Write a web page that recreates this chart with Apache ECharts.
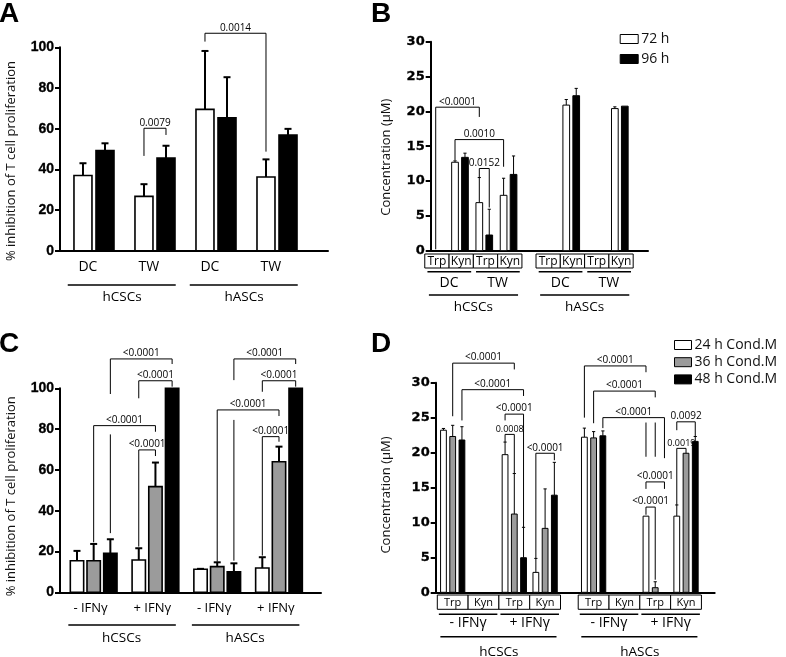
<!DOCTYPE html>
<html>
<head>
<meta charset="utf-8">
<script src="https://cdn.jsdelivr.net/npm/echarts@6/dist/echarts.min.js"></script>
<style>
  html, body { margin: 0; padding: 0; background: #fff; }
  #main { width: 786px; height: 657px; }
</style>
</head>
<body>
<div id="main"></div>
<script>
var myChart = echarts.init(document.getElementById('main'));

// ---- A: % inhibition, DC / TW
var aLabels = ['DC', 'TW', 'DC', 'TW'];
var aGroups = ['hCSCs', 'hASCs'];
var aOpen = [37.0, 26.7, 69.5, 36.2];
var aOpenSd = [6.0, 6.0, 28.7, 8.7];
var aFilled = [49.2, 45.6, 65.4, 56.9];
var aFilledSd = [3.6, 6.0, 19.9, 3.0];
var aTicks = [0, 20, 40, 60, 80, 100];
// [group, bar, group, bar, top, left end, right end, p]
var aSig = [
  [1, 0, 1, 1, 60.2, 46.6, 56.9, '0.0079'],
  [2, 0, 3, 0, 106.9, 102.8, 48.7, '0.0014']
];

// ---- B: Trp / Kyn at 72 h and 96 h
var bCells = ['Trp', 'Kyn', 'Trp', 'Kyn', 'Trp', 'Kyn', 'Trp', 'Kyn'];
var bLabels = ['DC', 'TW', 'DC', 'TW'];
var bGroups = ['hCSCs', 'hASCs'];
var b72 = [0, 12.7, 6.9, 7.95, 0, 20.9, 0, 20.4];
var b72Sd = [0, 0.2, 3.6, 2.45, 0, 0.8, 0, 0.25];
var b96 = [0, 13.4, 2.25, 10.95, 0, 22.25, 0, 20.75];
var b96Sd = [0, 0.6, 3.7, 2.65, 0, 1.05, 0, 0];
var bTicks = [0, 5, 10, 15, 20, 25, 30];
var bSig = [
  [0, 0.5, 2, 0, 20.6, 0.2, 19.2, '<0.0001'],
  [1, 0, 3, 0, 15.95, 13.0, 12.05, '0.0010'],
  [2, 0, 2, 1, 11.8, 10.5, 6.2, '0.0152']
];

// ---- C: % inhibition, -/+ IFNy
var cLabels = ['- IFNγ', '+ IFNγ', '- IFNγ', '+ IFNγ'];
var cGroups = ['hCSCs', 'hASCs'];
var c24 = [15.5, 15.8, 11.3, 11.9];
var c24Sd = [4.8, 5.8, 0.2, 5.3];
var c36 = [15.5, 51.8, 12.6, 64.0];
var c36Sd = [8.2, 11.8, 2.1, 7.4];
var c48 = [19.1, 100, 10.1, 100];
var c48Sd = [6.9, 0, 4.1, 0];
var cTicks = [0, 20, 40, 60, 80, 100];
var cSig = [
  [0, 2, 1, 2, 114.4, 97.2, 111.9, '<0.0001'],
  [1, 0, 1, 2, 103.7, 95.1, 100.8, '<0.0001'],
  [0, 1, 1, 1, 81.7, 24.5, 78.7, '<0.0001'],
  [1, 0, 1, 1, 69.8, 22.4, 66.8, '<0.0001'],
  [2, 2, 3, 2, 114.4, 104.0, 111.9, '<0.0001'],
  [3, 0, 3, 2, 103.7, 98.3, 100.8, '<0.0001'],
  [2, 1, 3, 1, 89.4, 15.0, 86.4, '<0.0001'],
  [3, 0, 3, 1, 76.3, 18.0, 73.8, '<0.0001']
];
// loose vertical legs: [group, bar, from, to]
var cLegs = [[0, 2, 77.4, 29.0], [2, 2, 84.5, 15.5]];

// ---- D: Trp / Kyn with conditioned medium
var dCells = ['Trp', 'Kyn', 'Trp', 'Kyn', 'Trp', 'Kyn', 'Trp', 'Kyn'];
var dLabels = ['- IFNγ', '+ IFNγ', '- IFNγ', '+ IFNγ'];
var dGroups = ['hCSCs', 'hASCs'];
var d24 = [23.2, 0, 19.7, 2.85, 22.2, 0, 10.9, 10.9];
var d24Sd = [0.25, 0, 1.8, 2.0, 1.3, 0, 0, 1.6];
var d36 = [22.3, 0, 11.2, 9.15, 22.1, 0, 0.66, 19.9];
var d36Sd = [1.6, 0, 5.8, 5.65, 0.9, 0, 0.85, 0];
var d48 = [21.8, 0, 4.95, 13.9, 22.4, 0, 0, 21.6];
var d48Sd = [1.9, 0, 4.35, 4.7, 0.7, 0, 0, 0.7];
var dTicks = [0, 5, 10, 15, 20, 25, 30];
var dSig = [
  [0, 1, 2, 1, 32.8, 25.2, 31.9, '<0.0001'],
  [0, 2, 2, 2, 29.0, 24.6, 28.1, '<0.0001'],
  [2, 0, 2, 2, 25.5, 24.6, 9.3, '<0.0001'],
  [2, 0, 2, 1, 22.6, 21.5, 17.0, '0.0008'],
  [3, 0, 3, 2, 19.9, 4.9, 18.9, '<0.0001'],
  [4, 0, 6, 0, 32.4, 25.0, 31.5, '<0.0001'],
  [4, 1, 6, 1, 28.8, 24.2, 27.9, '<0.0001'],
  [4, 2, 6, 2, 25.0, 23.5, 19.2, '<0.0001'],
  [6, 0, 6, 2, 15.8, 14.8, 14.8, '<0.0001'],
  [6, 0, 6, 1, 12.2, 11.1, 1.8, '<0.0001'],
  [7, 0, 7, 1, 20.6, 12.5, 19.9, '0.0019'],
  [7, 0, 7, 2, 24.4, 23.2, 22.3, '0.0092']
];
var dLegs = [[6, 0, 24.3, 19.4], [6, 1, 24.3, 19.4]];

var SANS = '"Open Sans", sans-serif';

// layout of each panel (pixels / axis units)
var LA = { grid: { left: 60, top: 47.3, width: 268, height: 203.4 }, x: [-0.557, 3.836], half: 4, gap: 0,
  n: 2, spacing: 0.361, halfW: 0.1475, cap: 3.5, lw: 1.6, ew: 2, subFont: 14, cellFont: 11,
  subDx: -0.1, subY: [null, 16.3], grpLine: [-0.43, 0.34], grpY: [34.3, 46.3], grpDx: -0.04 };
var LB = { grid: { left: 430.7, top: 41.7, width: 217.3, height: 209 }, x: [-0.206, 8.74], half: 4, gap: 0.58,
  n: 2, spacing: 0.41, halfW: 0.138, cap: 1.6, lw: 1, ew: 1, subFont: 14, cellFont: 12,
  cell: [-0.45, 0.55], box: [3.3, 17.3], subLine: [-0.34, 0.46], subY: [21, 32.6], subDx: 0.05,
  grpLine: [-0.28, 0.39], grpY: [44.3, 56], grpDx: 0.05 };
var LC = { grid: { left: 60, top: 388.3, width: 261, height: 204 }, x: [-0.545, 3.68], half: 4, gap: 0,
  n: 3, spacing: 0.27, halfW: 0.108, cap: 3.5, lw: 1.6, ew: 2, subFont: 13, cellFont: 11,
  subDx: -0.05, subY: [null, 15.7], grpLine: [-0.41, 0.33], grpY: [32.7, 45.7], grpDx: -0.047 };
var LD = { grid: { left: 435.7, top: 382.7, width: 279, height: 209.6 }, x: [-0.552, 8.506], half: 4, gap: 0.575,
  n: 3, spacing: 0.3, halfW: 0.094, cap: 1.6, lw: 1, ew: 1, subFont: 14, cellFont: 11,
  cell: [-0.5, 0.5], box: [2.7, 17], subLine: [-0.45, 0.45], subY: [22, 30.4], subDx: 0,
  grpLine: [-0.4, 0.37], grpY: [44.4, 59.4], grpDx: 0 };
var panels = [LA, LB, LC, LD];

function pos(L, i) { return i + (i >= L.half ? L.gap : 0); }
function barX(L, i, k) { return pos(L, i) + (k - (L.n - 1) / 2) * L.spacing; }

function txt(s, x, y, size, extra) {
  var st = { text: s, x: x, y: y, align: 'center', verticalAlign: 'middle', fill: '#000', fontSize: size, fontFamily: SANS };
  if (extra) Object.assign(st, extra);
  return { type: 'text', style: st };
}
function seg(p, q, w) {
  return { type: 'line', shape: { x1: p[0], y1: p[1], x2: q[0], y2: q[1] }, style: { stroke: '#000', lineWidth: w || 1 } };
}

function barSeries(name, xi, L, k, vals, sds, color) {
  return {
    type: 'custom', name: name, xAxisIndex: xi, yAxisIndex: xi, clip: false,
    itemStyle: { color: color, borderColor: '#000', borderWidth: 1 },
    data: vals.map(function (v, i) { return [pos(L, i), v, sds[i]]; }),
    renderItem: function (params, api) {
      var v = api.value(1), sd = api.value(2);
      if (!v) return null;
      var x = api.value(0) + (k - (L.n - 1) / 2) * L.spacing;
      var a = api.coord([x - L.halfW, v]), b = api.coord([x + L.halfW, 0]);
      var kids = [];
      if (sd > 0) {
        var t = api.coord([x, v + sd]);
        kids.push(seg([t[0], a[1]], t, L.ew));
        kids.push(seg([t[0] - L.cap, t[1]], [t[0] + L.cap, t[1]], L.ew));
      }
      kids.push({ type: 'rect', shape: { x: a[0], y: a[1], width: b[0] - a[0], height: b[1] - a[1] },
        style: { fill: color, stroke: '#000', lineWidth: L.lw } });
      return { type: 'group', children: kids };
    }
  };
}

function sigSeries(xi, L, sig, legs) {
  return {
    type: 'custom', xAxisIndex: xi, yAxisIndex: xi, clip: false, silent: true,
    data: [[0, 0]],
    renderItem: function (params, api) {
      var kids = [];
      sig.forEach(function (s) {
        var xl = barX(L, s[0], s[1]), xr = barX(L, s[2], s[3]);
        var p1 = api.coord([xl, s[5]]), p2 = api.coord([xl, s[4]]), p3 = api.coord([xr, s[4]]), p4 = api.coord([xr, s[6]]);
        kids.push({ type: 'polyline', shape: { points: [p1, p2, p3, p4] }, style: { stroke: '#000', lineWidth: 1, fill: null } });
        var small = (s[7] === '0.0008' || s[7] === '0.0019');
        kids.push(txt(s[7], (p2[0] + p3[0]) / 2, p2[1] - 0.5, small ? 9 : 10, { verticalAlign: 'bottom' }));
      });
      (legs || []).forEach(function (g) {
        var x = barX(L, g[0], g[1]);
        kids.push(seg(api.coord([x, g[2]]), api.coord([x, g[3]]), 1));
      });
      return { type: 'group', children: kids };
    }
  };
}

function decoSeries(xi, L, cells, subs, groups) {
  return {
    type: 'custom', xAxisIndex: xi, yAxisIndex: xi, clip: false, silent: true,
    data: [[0, 0]],
    renderItem: function (params, api) {
      var kids = [];
      function px(x, dy) { var p = api.coord([x, 0]); return [p[0], p[1] + dy]; }
      var perSub = cells ? 2 : 1;
      var n = cells ? cells.length : subs.length;
      if (cells) {
        cells.forEach(function (c, i) {
          var a = px(pos(L, i) + L.cell[0], L.box[0]), b = px(pos(L, i) + L.cell[1], L.box[1]);
          kids.push({ type: 'rect', shape: { x: a[0], y: a[1], width: b[0] - a[0], height: b[1] - a[1] },
            style: { fill: '#fff', stroke: '#000', lineWidth: 1 } });
          kids.push(txt(c, (a[0] + b[0]) / 2, (a[1] + b[1]) / 2 + 0.5, L.cellFont));
        });
      }
      subs.forEach(function (s, j) {
        var x0 = pos(L, j * perSub), x1 = pos(L, j * perSub + perSub - 1);
        if (L.subLine) kids.push(seg(px(x0 + L.subLine[0], L.subY[0]), px(x1 + L.subLine[1], L.subY[0]), 1.5));
        var p = px((x0 + x1) / 2 + L.subDx, L.subY[1]);
        kids.push(txt(s, p[0], p[1], L.subFont));
      });
      var per = n / groups.length;
      groups.forEach(function (g, j) {
        var x0 = pos(L, j * per), x1 = pos(L, j * per + per - 1);
        kids.push(seg(px(x0 + L.grpLine[0], L.grpY[0]), px(x1 + L.grpLine[1], L.grpY[0]), 1.5));
        var p = px((x0 + x1) / 2 + L.grpDx, L.grpY[1]);
        kids.push(txt(g, p[0], p[1], 13.5));
      });
      return { type: 'group', children: kids };
    }
  };
}

function yAx(i, ticks, name, gap, shift, tickFont) {
  return {
    type: 'value', gridIndex: i, min: ticks[0], max: ticks[ticks.length - 1], interval: ticks[1] - ticks[0],
    axisLine: { show: true, onZero: false, lineStyle: { color: '#000', width: 2 } },
    axisTick: { show: true, length: 5, lineStyle: { color: '#000', width: 2 } },
    axisLabel: { color: '#000', fontWeight: 'bold', fontSize: tickFont.size, fontFamily: tickFont.family, margin: 6,
      textBorderColor: '#000', textBorderWidth: 0.3 },
    splitLine: { show: false },
    name: name, nameLocation: 'middle', nameGap: gap,
    nameTextStyle: { color: '#111', fontSize: 13, fontFamily: SANS, padding: [0, shift, 0, 0] }
  };
}
function xAx(i, L) {
  return {
    type: 'value', gridIndex: i, min: L.x[0], max: L.x[1],
    axisLine: { show: true, onZero: false, lineStyle: { color: '#000', width: 2 } },
    axisTick: { show: false }, axisLabel: { show: false }, splitLine: { show: false }
  };
}

var arial = { size: 14, family: '"Liberation Sans", Arial, sans-serif' };
var wide = { size: 13, family: '"DejaVu Sans", sans-serif' };
var pctName = '% inhibition of T cell proliferation';
var concName = 'Concentration (µM)';
var GRAY = '#9b9b9b';

var option = {
  animation: false,
  title: [
    { text: 'A', left: -1, top: 0 }, { text: 'B', left: 371, top: 0 },
    { text: 'C', left: -1, top: 330 }, { text: 'D', left: 371, top: 330 }
  ].map(function (t) {
    t.padding = 0;
    t.textStyle = { fontSize: 28, fontWeight: 'bold', fontFamily: '"Liberation Sans", Arial, sans-serif', color: '#000' };
    return t;
  }),
  legend: [
    { data: ['72 h', '96 h'], left: 619.7, top: 32, orient: 'vertical', itemGap: 6, itemWidth: 18, itemHeight: 9,
      icon: 'rect', padding: 0, selectedMode: false,
      itemStyle: { borderColor: '#000', borderWidth: 1 },
      textStyle: { fontSize: 14, fontFamily: SANS, color: '#111', padding: [0, 0, 0, -2] } },
    { data: ['24 h Cond.M', '36 h Cond.M', '48 h Cond.M'], left: 674, top: 338, orient: 'vertical', itemGap: 3.2,
      itemWidth: 17, itemHeight: 9, icon: 'rect', padding: 0, selectedMode: false,
      itemStyle: { borderColor: '#000', borderWidth: 1 },
      textStyle: { fontSize: 14, fontFamily: SANS, color: '#111', padding: [0, 0, 0, -2] } }
  ],
  grid: panels.map(function (L) { return L.grid; }),
  xAxis: panels.map(function (L, i) { return xAx(i, L); }),
  yAxis: [
    yAx(0, aTicks, pctName, 42, 24, arial),
    yAx(1, bTicks, concName, 38, 22, wide),
    yAx(2, cTicks, pctName, 42, 12, arial),
    yAx(3, dTicks, concName, 43, 15, wide)
  ],
  series: [
    barSeries('A open', 0, LA, 0, aOpen, aOpenSd, '#fff'),
    barSeries('A filled', 0, LA, 1, aFilled, aFilledSd, '#000'),
    sigSeries(0, LA, aSig),
    decoSeries(0, LA, null, aLabels, aGroups),

    barSeries('72 h', 1, LB, 0, b72, b72Sd, '#fff'),
    barSeries('96 h', 1, LB, 1, b96, b96Sd, '#000'),
    sigSeries(1, LB, bSig),
    decoSeries(1, LB, bCells, bLabels, bGroups),

    barSeries('C 24 h', 2, LC, 0, c24, c24Sd, '#fff'),
    barSeries('C 36 h', 2, LC, 1, c36, c36Sd, GRAY),
    barSeries('C 48 h', 2, LC, 2, c48, c48Sd, '#000'),
    sigSeries(2, LC, cSig, cLegs),
    decoSeries(2, LC, null, cLabels, cGroups),

    barSeries('24 h Cond.M', 3, LD, 0, d24, d24Sd, '#fff'),
    barSeries('36 h Cond.M', 3, LD, 1, d36, d36Sd, GRAY),
    barSeries('48 h Cond.M', 3, LD, 2, d48, d48Sd, '#000'),
    sigSeries(3, LD, dSig, dLegs),
    decoSeries(3, LD, dCells, dLabels, dGroups)
  ]
};

myChart.setOption(option);
</script>
</body>
</html>
